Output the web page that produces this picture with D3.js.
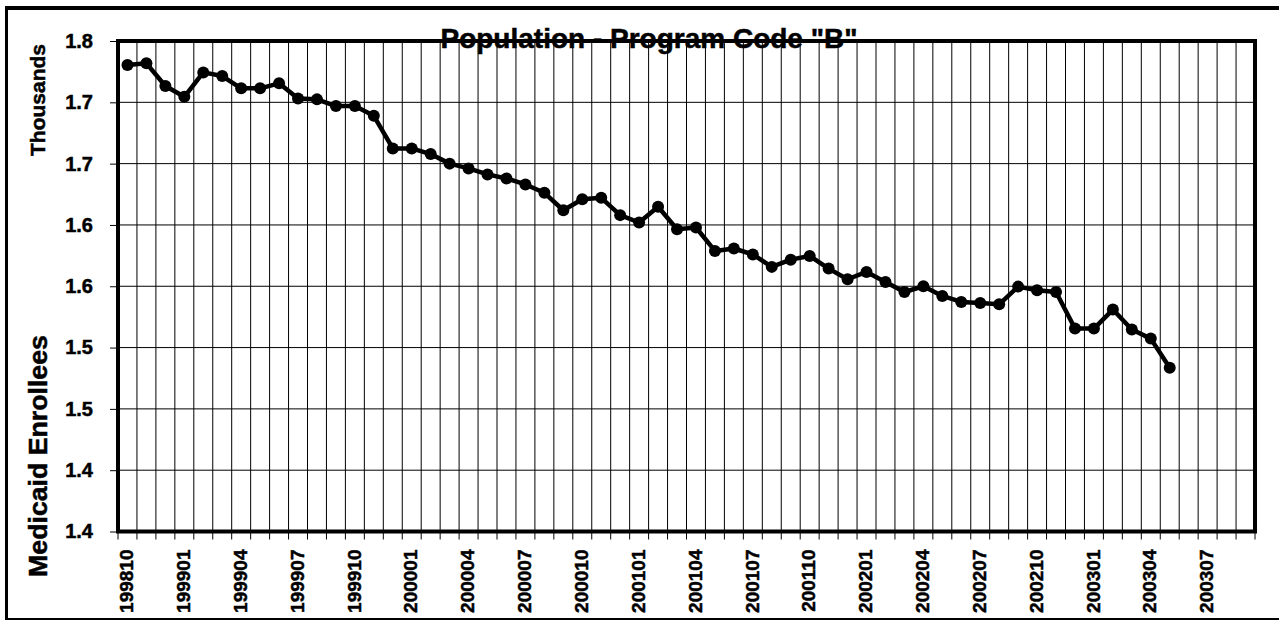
<!DOCTYPE html>
<html>
<head>
<meta charset="utf-8">
<script src="https://cdn.jsdelivr.net/npm/d3@7"></script>
<style>
  body { margin: 0; background: #fff; }
  text { font-family: "Liberation Sans", Arial, sans-serif; font-weight: bold; fill: #000; stroke: #000; stroke-width: 0.5px; }
</style>
</head>
<body>
<div id="chart"></div>
<script>
//months on the category axis (yyyymm)
var months = ["199810","199811","199812","199901","199902","199903","199904","199905","199906","199907","199908","199909",
  "199910","199911","199912","200001","200002","200003","200004","200005","200006","200007","200008","200009",
  "200010","200011","200012","200101","200102","200103","200104","200105","200106","200107","200108","200109",
  "200110","200111","200112","200201","200202","200203","200204","200205","200206","200207","200208","200209",
  "200210","200211","200212","200301","200302","200303","200304","200305","200306","200307","200308","200309"];

//enrollees in thousands, one per month from 199810
var enrollees = [1.7304,1.7318,1.7133,1.7045,1.7244,1.7214,1.7114,1.7114,1.7155,1.7032,1.7024,1.6969,
  1.6969,1.6890,1.6624,1.6624,1.6578,1.6500,1.6461,1.6412,1.6379,1.6330,1.6262,1.6120,
  1.6210,1.6221,1.6080,1.6020,1.6148,1.5965,1.5979,1.5788,1.5808,1.5759,1.5658,1.5717,
  1.5747,1.5644,1.5557,1.5617,1.5535,1.5453,1.5500,1.5421,1.5372,1.5364,1.5353,1.5497,
  1.5467,1.5453,1.5155,1.5155,1.5310,1.5147,1.5073,1.4836];

//y ticks and the (rounded) labels the original shows for them
var yTicks = [1.35,1.40,1.45,1.50,1.55,1.60,1.65,1.70,1.75];
var yTickLabels = ["1.4","1.4","1.5","1.5","1.6","1.6","1.7","1.7","1.8"];

//note: "top" is taken by window.top, so plot edges get their own names
var w = 1279,
    h = 626,
    plotLeft = 118,
    plotRight = 1255,
    plotTop = 41,
    plotBottom = 531.5;

var svg = d3.select("#chart").append("svg")
  .attr("width", w)
  .attr("height", h);

var x = d3.scaleBand().domain(months).range([plotLeft, plotRight]);
var y = d3.scaleLinear().domain([1.35, 1.75]).range([plotBottom, plotTop]);

//outer frame
svg.append("line").attr("x1", 5).attr("x2", w).attr("y1", 8).attr("y2", 8)
  .style("stroke", "#000").style("stroke-width", 4);
svg.append("line").attr("x1", 6.5).attr("x2", 6.5).attr("y1", 6).attr("y2", 620)
  .style("stroke", "#000").style("stroke-width", 3);
svg.append("line").attr("x1", 5).attr("x2", w).attr("y1", 619).attr("y2", 619)
  .style("stroke", "#000").style("stroke-width", 2);

//grid lines, vertical between every month, horizontal at every y tick
svg.append("g").selectAll("line")
  .data(months.slice(1))
  .enter()
  .append("line")
    .attr("x1", function(d) { return x(d); })
    .attr("x2", function(d) { return x(d); })
    .attr("y1", plotTop)
    .attr("y2", plotBottom)
    .style("stroke", "#000")
    .style("stroke-width", 1);

svg.append("g").selectAll("line")
  .data(yTicks)
  .enter()
  .append("line")
    .attr("x1", plotLeft)
    .attr("x2", plotRight)
    .attr("y1", function(d) { return y(d); })
    .attr("y2", function(d) { return y(d); })
    .style("stroke", "#000")
    .style("stroke-width", 1);

//y axis
var yAxis = svg.append("g")
  .attr("transform", "translate(" + plotLeft + ",0)")
  .call(d3.axisLeft(y)
    .tickValues(yTicks)
    .tickFormat(function(d, i) { return yTickLabels[i]; })
    .tickSize(8)
    .tickPadding(17));
yAxis.select(".domain").remove();
yAxis.selectAll("line").style("stroke", "#000");
yAxis.selectAll("text").style("font-size", "20px").attr("font-family", null);

//x axis: ticks sit on the month boundaries, labels every 3rd month
svg.append("g").selectAll("line")
  .data(months.concat(["end"]))
  .enter()
  .append("line")
    .attr("x1", function(d) { return d === "end" ? plotRight : x(d); })
    .attr("x2", function(d) { return d === "end" ? plotRight : x(d); })
    .attr("y1", plotBottom)
    .attr("y2", plotBottom + 8)
    .style("stroke", "#000")
    .style("stroke-width", 1);

var xAxis = svg.append("g")
  .attr("transform", "translate(0," + plotBottom + ")")
  .call(d3.axisBottom(x)
    .tickValues(months.filter(function(d, i) { return i % 3 === 0; }))
    .tickSize(0));
xAxis.select(".domain").remove();
xAxis.selectAll("text")
  .attr("transform", "rotate(-90)")
  .attr("x", -18)
  .attr("y", 0)
  .attr("dy", "0.3em")
  .style("text-anchor", "end")
  .style("font-size", "19px")
  .attr("font-family", null);

//plot area border
svg.append("rect")
  .attr("x", plotLeft)
  .attr("y", plotTop)
  .attr("width", plotRight - plotLeft)
  .attr("height", plotBottom - plotTop)
  .style("fill", "none")
  .style("stroke", "#000")
  .style("stroke-width", 4);

//the line and the markers
var data = enrollees.map(function(v, i) { return { m: months[i], v: v }; });

var line = d3.line()
  .x(function(d) { return x(d.m) + x.bandwidth() / 2; })
  .y(function(d) { return y(d.v); });

svg.append("path")
  .datum(data)
  .attr("d", line)
  .style("fill", "none")
  .style("stroke", "#000")
  .style("stroke-width", 4.5)
  .style("stroke-linejoin", "round");

svg.append("g").selectAll("circle")
  .data(data)
  .enter()
  .append("circle")
    .attr("cx", function(d) { return x(d.m) + x.bandwidth() / 2; })
    .attr("cy", function(d) { return y(d.v); })
    .attr("r", 6)
    .style("fill", "#000");

//title and axis titles
svg.append("text")
  .attr("x", 649)
  .attr("y", 48)
  .attr("text-anchor", "middle")
  .style("font-size", "28px")
  .text('Population - Program Code "B"');

svg.append("text")
  .attr("transform", "translate(45,100) rotate(-90)")
  .attr("text-anchor", "middle")
  .style("font-size", "21px")
  .text("Thousands");

svg.append("text")
  .attr("transform", "translate(47,456) rotate(-90)")
  .attr("text-anchor", "middle")
  .style("font-size", "26.7px")
  .text("Medicaid Enrollees");
</script>
</body>
</html>
